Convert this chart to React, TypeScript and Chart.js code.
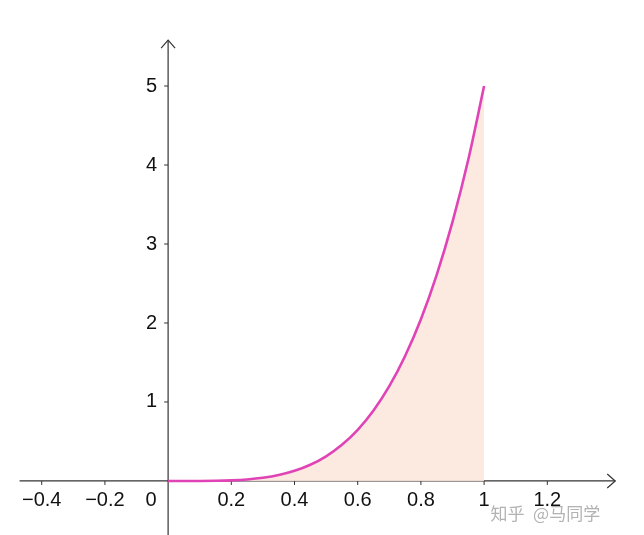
import React, { useEffect, useRef } from "react";
import { Chart, registerables } from "chart.js";

Chart.register(...registerables);

const curveX = [0, 0.05, 0.1, 0.15, 0.2, 0.25, 0.3, 0.35, 0.4, 0.45, 0.5, 0.55, 0.6, 0.65, 0.7, 0.75, 0.8, 0.85, 0.9, 0.95, 1];
const curveY = [0, 0.0001, 0.0005, 0.0025, 0.008, 0.0195, 0.0405, 0.075, 0.128, 0.205, 0.3125, 0.4575, 0.648, 0.893, 1.2, 1.582, 2.048, 2.61, 3.28, 4.07, 5];

const xTicks = [-0.4, -0.2, 0.2, 0.4, 0.6, 0.8, 1, 1.2];
const xTickLabels = ["−0.4", "−0.2", "0.2", "0.4", "0.6", "0.8", "1", "1.2"];
const yTicks = [1, 2, 3, 4, 5];
const yTickLabels = ["1", "2", "3", "4", "5"];
const originLabel = "0";
const watermark = "知乎 @马同学";

const xRange = { min: -0.532, max: 1.506, axisFrom: -0.47, axisTo: 1.415 };
const yRange = { min: -0.684, max: 6.089, axisFrom: -0.684, axisTo: 5.58 };

const AXIS_COLOR = "#333333";
const LABEL_FONT = '20px "Liberation Sans", Arial, sans-serif';

function drawText(ctx: CanvasRenderingContext2D, text: string, x: number, y: number, align: "center" | "right") {
  ctx.textAlign = align;
  ctx.textBaseline = "middle";
  ctx.fillText(text, x, y);
}

const axesPlugin = {
  id: "geoAxes",
  beforeDatasetsDraw(chart: any) {
    const ctx: CanvasRenderingContext2D = chart.ctx;
    const xs = chart.scales.x;
    const ys = chart.scales.y;
    const x0 = xs.getPixelForValue(0);
    const y0 = ys.getPixelForValue(0);
    ctx.save();
    ctx.strokeStyle = AXIS_COLOR;
    ctx.lineWidth = 1.2;
    // x axis
    const xa = xs.getPixelForValue(xRange.axisFrom);
    const xb = xs.getPixelForValue(xRange.axisTo);
    ctx.beginPath();
    ctx.moveTo(xa, y0);
    ctx.lineTo(xb, y0);
    ctx.stroke();
    ctx.beginPath();
    ctx.moveTo(xb - 8, y0 - 7);
    ctx.lineTo(xb, y0);
    ctx.lineTo(xb - 8, y0 + 7);
    ctx.stroke();
    // y axis
    const ya = ys.getPixelForValue(yRange.axisFrom);
    const yb = ys.getPixelForValue(yRange.axisTo);
    ctx.beginPath();
    ctx.moveTo(x0, ya);
    ctx.lineTo(x0, yb);
    ctx.stroke();
    ctx.beginPath();
    ctx.moveTo(x0 - 7, yb + 8);
    ctx.lineTo(x0, yb);
    ctx.lineTo(x0 + 7, yb + 8);
    ctx.stroke();
    // ticks
    ctx.lineWidth = 1;
    xTicks.forEach((v) => {
      const px = xs.getPixelForValue(v);
      ctx.beginPath();
      ctx.moveTo(px, y0);
      ctx.lineTo(px, y0 + 4);
      ctx.stroke();
    });
    yTicks.forEach((v) => {
      const py = ys.getPixelForValue(v);
      ctx.beginPath();
      ctx.moveTo(x0 - 4, py);
      ctx.lineTo(x0, py);
      ctx.stroke();
    });
    // labels
    ctx.fillStyle = "#111111";
    ctx.font = LABEL_FONT;
    xTicks.forEach((v, i) => {
      drawText(ctx, xTickLabels[i], xs.getPixelForValue(v), y0 + 20, "center");
    });
    drawText(ctx, originLabel, x0 - 17, y0 + 20, "center");
    yTicks.forEach((v, i) => {
      drawText(ctx, yTickLabels[i], x0 - 11, ys.getPixelForValue(v), "right");
    });
    ctx.restore();
  },
  afterDraw(chart: any) {
    const ctx: CanvasRenderingContext2D = chart.ctx;
    const xs = chart.scales.x;
    const ys = chart.scales.y;
    ctx.save();
    ctx.font = '17px "Noto Sans CJK SC", sans-serif';
    ctx.fillStyle = "rgba(165,165,165,0.85)";
    ctx.textAlign = "left";
    ctx.textBaseline = "middle";
    ctx.fillText("知乎", xs.getPixelForValue(1.02), ys.getPixelForValue(-0.41));
    ctx.fillText(watermark.slice(3), xs.getPixelForValue(1.155), ys.getPixelForValue(-0.41));
    ctx.restore();
  },
};

export default function App() {
  const ref = useRef<HTMLCanvasElement>(null);
  useEffect(() => {
    document.body.style.margin = "0";
    const chart = new Chart(ref.current!, {
      type: "line",
      data: {
        datasets: [
          {
            data: curveX.map((x, i) => ({ x, y: curveY[i] })),
            borderColor: "#e043b6",
            borderWidth: 2.6,
            backgroundColor: "rgba(252, 232, 222, 0.9)",
            fill: "origin",
            pointRadius: 0,
            cubicInterpolationMode: "monotone",
          },
        ],
      },
      options: {
        animation: false,
        responsive: false,
        layout: { padding: 0 },
        plugins: { legend: { display: false }, tooltip: { enabled: false } },
        scales: {
          x: { type: "linear", min: xRange.min, max: xRange.max, display: false },
          y: { type: "linear", min: yRange.min, max: yRange.max, display: false },
        },
      },
      plugins: [axesPlugin],
    });
    return () => chart.destroy();
  }, []);
  return (
    <div style={{ position: "fixed", left: 0, top: 0, width: 644, height: 535, background: "#fff" }}>
      <canvas ref={ref} width={644} height={535} />
    </div>
  );
}
